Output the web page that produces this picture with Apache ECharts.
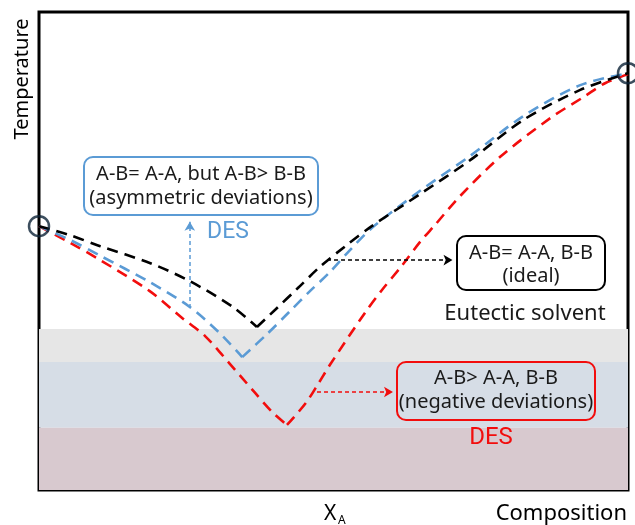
<!DOCTYPE html>
<html>
<head>
<meta charset="utf-8">
<script src="https://cdn.jsdelivr.net/npm/echarts@6/dist/echarts.min.js"></script>
<style>html,body{margin:0;padding:0;background:#fff;}#c{width:635px;height:525px;}</style>
</head>
<body>
<div id="c"></div>
<script>
// Composition X_A (0-100) vs Temperature (0-100, arbitrary units)
const idealCurve = [[0,55.2],[5.3,53.3],[10.4,51.0],[18.8,47.5],[25.6,43.7],[32.9,38.3],[37.0,34.1],
  [40.1,37.7],[44.0,42.3],[47.7,46.7],[52.0,51.0],[56.5,55.2],[64.7,61.9],[73.2,69.0],[82.2,77.4],[91.9,83.7],[100,87.2]];
const asymCurve = [[0,55.2],[5.3,52.3],[10.4,49.0],[18.8,43.5],[25.6,38.3],[30.7,32.8],[34.5,27.8],
  [38.7,32.6],[42.6,37.4],[46.0,41.6],[49.4,45.6],[52.8,50.2],[56.5,54.8],[64.7,62.6],[73.2,69.9],[82.2,78.2],[91.9,84.7],[100,87.2]];
const negCurve = [[0,55.2],[5.3,51.7],[10.4,48.1],[18.8,41.6],[24.3,36.0],[28.2,32.2],[32.4,26.4],[36.7,20.3],[39.6,16.3],[42.1,13.6],
  [45.3,18.2],[47.5,22.4],[49.4,26.2],[55.3,37.0],[58.2,41.8],[61.6,46.9],[64.7,51.9],[67.2,55.4],[71.5,61.5],[78.3,69.7],[86.8,77.8],[92.7,82.4],[96.1,85.1],[100,87.0]];
const pureComponents = [[0,55.2],[100,87.2]];
const bandGray = [26.8, 33.7];
const bandBlue = [13.0, 26.8];
const bandPink = [0, 13.0];
const arrowAsym = [[25.6,38.1],[25.6,56.1]];
const arrowIdeal = [[48.9,48.1],[70.2,48.1]];
const arrowNeg = [[47.2,20.5],[60.1,20.5]];

const FONT = '"Noto Sans", "DejaVu Sans", sans-serif';
const BLUE = '#5b9bd5', RED = '#f20d0d', BLACK = '#000000';
const dash = [11, 7];

function arrowLine(pts, color){
  return {
    silent: true, symbol: ['none','arrow'], symbolSize: [8,9],
    label: {show:false},
    lineStyle: {color: color, width: 1.5, type: [4,3]},
    data: [[{coord: pts[0]}, {coord: pts[1]}]]
  };
}
// split a liquidus curve at its eutectic (minimum) into two smooth branches
function branches(curve, name, color, z){
  let k = 0;
  curve.forEach((p, i) => { if (p[1] < curve[k][1]) k = i; });
  const base = {type:'line', name: name, symbol:'none', smooth: 0.3, z: z,
    lineStyle: {color: color, width: 2.6, type: dash}};
  return [Object.assign({}, base, {data: curve.slice(0, k+1)}),
          Object.assign({}, base, {data: curve.slice(k)})];
}

const redB = branches(negCurve, 'negative deviations (DES)', RED, 3);
const blueB = branches(asymCurve, 'asymmetric deviations (DES)', BLUE, 4);
const blackB = branches(idealCurve, 'ideal (eutectic solvent)', BLACK, 5);
redB[0].markArea = {silent: true, data: [
  [{yAxis: bandGray[0], itemStyle:{color:'#e6e6e6'}}, {yAxis: bandGray[1]}],
  [{yAxis: bandBlue[0], itemStyle:{color:'#d6dde6'}}, {yAxis: bandBlue[1]}],
  [{yAxis: bandPink[0], itemStyle:{color:'#d8c9cf'}}, {yAxis: bandPink[1]}]
]};
redB[1].markLine = arrowLine(arrowNeg, RED);
blueB[0].markLine = arrowLine(arrowAsym, BLUE);
blackB[1].markLine = arrowLine(arrowIdeal, BLACK);

const chart = echarts.init(document.getElementById('c'), null, {renderer:'canvas'});
chart.setOption({
  animation: false,
  backgroundColor: '#ffffff',
  grid: {left: 39, right: 7, top: 12, bottom: 35, show: true, borderColor: '#000', borderWidth: 3, backgroundColor: 'transparent'},
  xAxis: {type: 'value', min: 0, max: 100, axisLine: {show:false}, axisTick:{show:false}, axisLabel:{show:false}, splitLine:{show:false}},
  yAxis: {type: 'value', min: 0, max: 100, axisLine: {show:false}, axisTick:{show:false}, axisLabel:{show:false}, splitLine:{show:false}},
  series: [].concat(redB, blueB, blackB, [
    {
      type: 'scatter', data: pureComponents, symbol: 'circle', symbolSize: 20, clip: false, z: 6,
      itemStyle: {color: 'rgba(0,0,0,0)', borderColor: '#0b2236', borderWidth: 2.5}
    }
  ]),
  graphic: [
    {type:'rect', z:20, shape:{x:84,y:157,width:234,height:58,r:9}, style:{fill:'#fff', stroke:BLUE, lineWidth:2}},
    {type:'text', z:21, x:201, y:174, style:{text:'A-B= A-A, but A-B> B-B', font:'20px '+FONT, fill:'#1a1a1a', textAlign:'center', textVerticalAlign:'middle'}},
    {type:'text', z:21, x:201, y:198, style:{text:'(asymmetric deviations)', font:'20px '+FONT, fill:'#1a1a1a', textAlign:'center', textVerticalAlign:'middle'}},
    {type:'text', z:21, x:228, y:232, style:{text:'DES', font:'23px Roboto, '+FONT, fill:BLUE, textAlign:'center', textVerticalAlign:'middle'}},

    {type:'rect', z:20, shape:{x:457,y:236,width:148,height:54,r:9}, style:{fill:'#fff', stroke:'#000', lineWidth:2}},
    {type:'text', z:21, x:531, y:253, style:{text:'A-B= A-A, B-B', font:'20px '+FONT, fill:'#1a1a1a', textAlign:'center', textVerticalAlign:'middle'}},
    {type:'text', z:21, x:531, y:276, style:{text:'(ideal)', font:'20px '+FONT, fill:'#1a1a1a', textAlign:'center', textVerticalAlign:'middle'}},
    {type:'text', z:21, x:525, y:314, style:{text:'Eutectic solvent', font:'22px '+FONT, fill:'#1a1a1a', textAlign:'center', textVerticalAlign:'middle'}},

    {type:'rect', z:20, shape:{x:397,y:362,width:198,height:58,r:9}, style:{fill:'rgba(0,0,0,0)', stroke:RED, lineWidth:2}},
    {type:'text', z:21, x:496, y:378, style:{text:'A-B> A-A, B-B', font:'20px '+FONT, fill:'#1a1a1a', textAlign:'center', textVerticalAlign:'middle'}},
    {type:'text', z:21, x:496, y:402, style:{text:'(negative deviations)', font:'20px '+FONT, fill:'#1a1a1a', textAlign:'center', textVerticalAlign:'middle'}},
    {type:'text', z:21, x:491, y:438, style:{text:'DES', font:'24px Roboto, '+FONT, fill:RED, textAlign:'center', textVerticalAlign:'middle'}},

    {type:'text', z:21, x:22, y:79, rotation: Math.PI/2, style:{text:'Temperature', font:'20px '+FONT, fill:'#000', textAlign:'center', textVerticalAlign:'middle'}},
    {type:'text', z:21, x:627, y:514, style:{text:'Composition', font:'22px '+FONT, fill:'#000', textAlign:'right', textVerticalAlign:'middle'}},
    {type:'text', z:21, x:324, y:514, style:{text:'X', font:'21px '+FONT, fill:'#000', textAlign:'left', textVerticalAlign:'middle'}},
    {type:'text', z:21, x:338, y:521, style:{text:'A', font:'12px '+FONT, fill:'#000', textAlign:'left', textVerticalAlign:'middle'}}
  ]
});
</script>
</body>
</html>
